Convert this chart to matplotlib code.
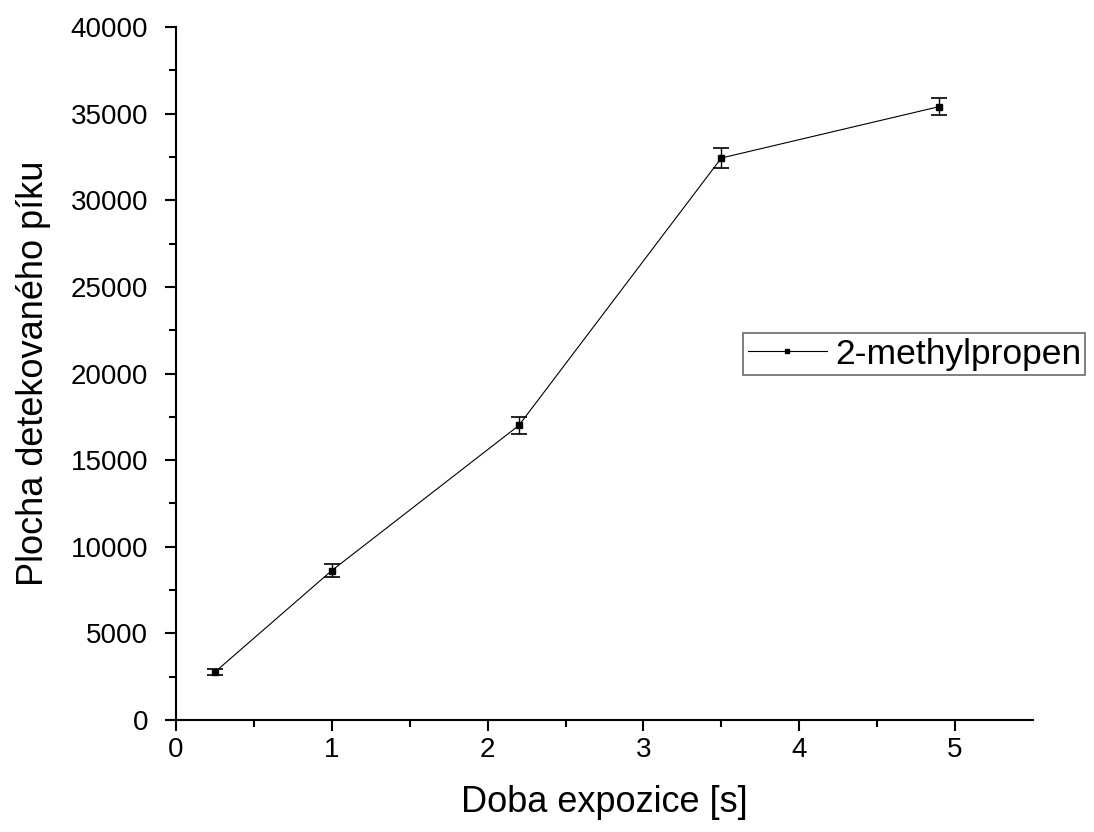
import matplotlib.pyplot as plt
from matplotlib.lines import Line2D

# data
expozice = [0.25, 1.0, 2.2, 3.5, 4.9]
plocha = [2770, 8630, 17000, 32440, 35410]
chyba = [180, 380, 490, 580, 490]

plt.rcParams['font.family'] = ['Liberation Sans', 'DejaVu Sans']

fig = plt.figure(figsize=(10.94, 8.32), dpi=100)
ax = fig.add_axes([0.1609, 0.1346, 0.7833, 0.8329])

ax.errorbar(expozice, plocha, yerr=chyba, color='black', lw=0.8,
            marker='s', markersize=4.5, capsize=6, capthick=1.2,
            elinewidth=1.0)

ax.set_xlim(0, 5.5)
ax.set_ylim(0, 40000)
ax.set_xticks(range(0, 6))
ax.set_xticks([0.5, 1.5, 2.5, 3.5, 4.5], minor=True)
ax.set_yticks(range(0, 40001, 5000))
ax.set_yticks(range(2500, 40000, 5000), minor=True)

for s in ['top', 'right']:
    ax.spines[s].set_visible(False)
for s in ['left', 'bottom']:
    ax.spines[s].set_linewidth(1.5)

ax.tick_params(which='major', direction='out', length=8, width=1.5, labelsize=20)
ax.tick_params(which='minor', direction='out', length=5, width=1.5)
ax.tick_params(axis='x', which='major', pad=4)
ax.tick_params(axis='y', which='major', pad=12)

ax.set_xlabel('Doba expozice [s]', fontsize=26, labelpad=16)
ax.set_ylabel('Plocha detekovaného píku', fontsize=26, labelpad=14)

handle = Line2D([], [], color='black', lw=0.8, marker='s', markersize=3)
leg = ax.legend([handle], ['2-methylpropen'], loc='center left',
                bbox_to_anchor=(0.662, 0.528), fontsize=25.5,
                frameon=True, fancybox=False, edgecolor='#444444',
                handlelength=2.25, borderpad=0.12, handletextpad=0.22,
                borderaxespad=0)
leg.get_frame().set_linewidth(1.2)

fig.savefig('out.png', dpi=100)
